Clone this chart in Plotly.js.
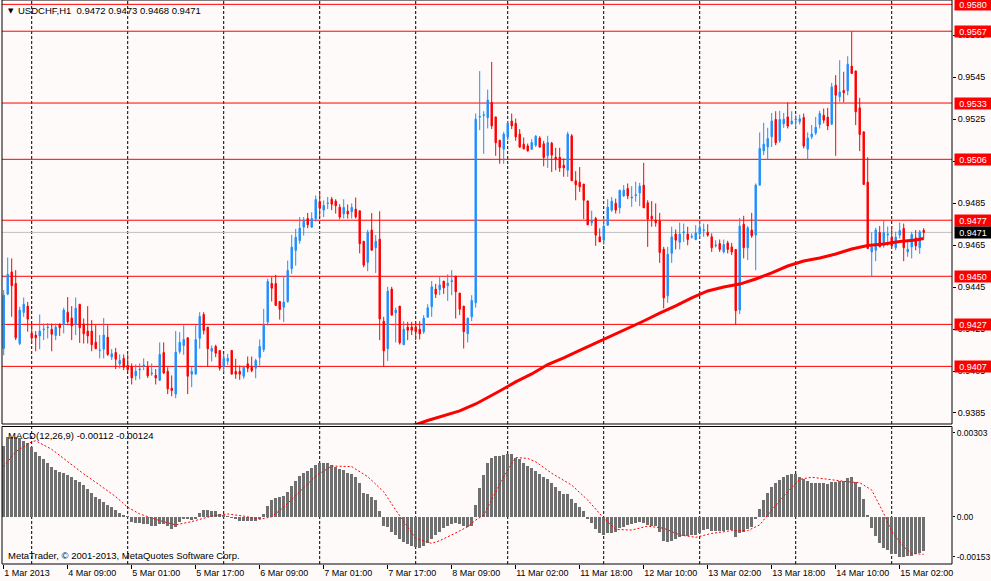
<!DOCTYPE html>
<html><head><meta charset="utf-8">
<script src="https://cdn.plot.ly/plotly-3.0.1.min.js"></script>
<style>html,body{margin:0;padding:0;background:#FFFAFA;}#chart{width:991px;height:581px;}</style>
</head><body><div id="chart"></div>
<script>
// ---- USDCHF H1 candles (bar 0 = 1 Mar 2013 17:00) ----
const openP = [
0.94157,0.94416,0.94522,0.94467,0.94181,0.94329,0.94359,0.94230,0.94221,0.94217,
0.94246,0.94256,0.94249,0.94219,0.94273,0.94271,0.94330,0.94302,0.94271,0.94368,
0.94273,0.94240,0.94240,0.94187,0.94148,0.94154,0.94211,0.94117,0.94138,0.94084,
0.94110,0.94078,0.94071,0.94027,0.94056,0.94071,0.94068,0.94037,0.94030,0.94006,
0.94138,0.94049,0.93968,0.93940,0.94143,0.94171,0.94208,0.94035,0.94035,0.94206,
0.94319,0.94259,0.94144,0.94167,0.94148,0.94071,0.94097,0.94148,0.94048,0.94048,
0.94025,0.94084,0.94068,0.94063,0.94114,0.94152,0.94283,0.94467,0.94467,0.94381,
0.94354,0.94381,0.94537,0.94624,0.94671,0.94735,0.94776,0.94735,0.94775,0.94857,
0.94816,0.94848,0.94868,0.94859,0.94830,0.94798,0.94811,0.94808,0.94821,0.94813,
0.94668,0.94567,0.94721,0.94637,0.94678,0.94287,0.94156,0.94440,0.94327,0.94359,
0.94175,0.94259,0.94259,0.94259,0.94249,0.94237,0.94306,0.94356,0.94440,0.94437,
0.94478,0.94456,0.94475,0.94502,0.94421,0.94359,0.94227,0.94308,0.94375,0.95259,
0.95267,0.95256,0.95329,0.95260,0.95149,0.95106,0.95165,0.95240,0.95229,0.95178,
0.95130,0.95122,0.95106,0.95125,0.95159,0.95132,0.95075,0.95135,0.95068,0.95068,
0.95030,0.95006,0.95170,0.94956,0.94949,0.94940,0.94860,0.94756,0.94776,0.94689,
0.94673,0.94744,0.94816,0.94849,0.94827,0.94884,0.94919,0.94874,0.94885,0.94898,
0.94935,0.94851,0.94787,0.94768,0.94765,0.94630,0.94408,0.94610,0.94702,0.94663,
0.94708,0.94702,0.94687,0.94676,0.94702,0.94719,0.94710,0.94689,0.94646,0.94657,
0.94617,0.94660,0.94641,0.94629,0.94340,0.94749,0.94637,0.94721,0.94697,0.94935,
0.95098,0.95117,0.95165,0.95248,0.95146,0.95227,0.95260,0.95227,0.95245,0.95237,
0.95257,0.95106,0.95165,0.95183,0.95224,0.95268,0.95259,0.95225,0.95411,0.95356,
0.95386,0.95384,0.95502,0.95479,0.95303,0.95189,0.94949,0.94617,0.94625,0.94710,
0.94649,0.94698,0.94687,0.94637,0.94697,0.94729,0.94617,0.94641,0.94684,0.94637,
0.94720];
const highP = [
0.94435,0.94590,0.94586,0.94530,0.94356,0.94400,0.94379,0.94276,0.94240,0.94319,
0.94276,0.94279,0.94276,0.94276,0.94276,0.94351,0.94402,0.94359,0.94400,0.94368,
0.94300,0.94359,0.94292,0.94268,0.94221,0.94302,0.94268,0.94154,0.94160,0.94129,
0.94129,0.94129,0.94086,0.94081,0.94086,0.94110,0.94097,0.94086,0.94059,0.94186,
0.94186,0.94068,0.94029,0.94240,0.94235,0.94267,0.94211,0.94068,0.94267,0.94330,
0.94330,0.94259,0.94171,0.94175,0.94148,0.94132,0.94132,0.94148,0.94108,0.94076,
0.94076,0.94119,0.94119,0.94108,0.94200,0.94346,0.94489,0.94497,0.94508,0.94381,
0.94502,0.94576,0.94698,0.94727,0.94783,0.94783,0.94803,0.94806,0.94886,0.94902,
0.94862,0.94879,0.94879,0.94868,0.94844,0.94868,0.94843,0.94848,0.94876,0.94813,
0.94668,0.94722,0.94802,0.94697,0.94811,0.94308,0.94451,0.94451,0.94352,0.94359,
0.94287,0.94284,0.94284,0.94284,0.94287,0.94316,0.94368,0.94478,0.94465,0.94502,
0.94478,0.94510,0.94530,0.94502,0.94421,0.94359,0.94302,0.94411,0.95276,0.95478,
0.95287,0.95390,0.95522,0.95260,0.95149,0.95189,0.95241,0.95276,0.95252,0.95202,
0.95162,0.95133,0.95154,0.95173,0.95168,0.95146,0.95170,0.95141,0.95113,0.95113,
0.95062,0.95189,0.95178,0.95002,0.95021,0.94940,0.94860,0.94813,0.94784,0.94729,
0.94776,0.94868,0.94879,0.94871,0.94911,0.94935,0.94943,0.94930,0.94951,0.94946,
0.95041,0.94863,0.94859,0.94848,0.94803,0.94641,0.94641,0.94737,0.94724,0.94757,
0.94752,0.94737,0.94705,0.94744,0.94768,0.94752,0.94749,0.94705,0.94673,0.94676,
0.94676,0.94670,0.94660,0.94629,0.94779,0.94789,0.94740,0.94803,0.94943,0.95186,
0.95232,0.95208,0.95279,0.95287,0.95289,0.95279,0.95329,0.95287,0.95268,0.95271,
0.95276,0.95186,0.95221,0.95260,0.95289,0.95300,0.95303,0.95422,0.95459,0.95530,
0.95475,0.95549,0.95667,0.95479,0.95351,0.95189,0.95068,0.94710,0.94732,0.94740,
0.94768,0.94738,0.94740,0.94713,0.94757,0.94752,0.94673,0.94713,0.94721,0.94721,
0.94730];
const lowP = [
0.94125,0.94411,0.94308,0.94197,0.94173,0.94308,0.94237,0.94186,0.94144,0.94154,
0.94197,0.94205,0.94144,0.94197,0.94217,0.94229,0.94276,0.94197,0.94221,0.94184,
0.94181,0.94181,0.94144,0.94156,0.94110,0.94110,0.94122,0.94102,0.94059,0.94062,
0.94054,0.94049,0.93986,0.94006,0.94011,0.94054,0.94017,0.94027,0.93986,0.94002,
0.94037,0.93940,0.93930,0.93920,0.94132,0.94127,0.93940,0.93973,0.94035,0.94156,
0.94224,0.94071,0.94095,0.94116,0.94052,0.94044,0.94079,0.94035,0.94013,0.94008,
0.94013,0.94044,0.94044,0.94016,0.94076,0.94140,0.94267,0.94381,0.94362,0.94295,
0.94283,0.94375,0.94513,0.94552,0.94656,0.94695,0.94730,0.94732,0.94762,0.94783,
0.94783,0.94821,0.94816,0.94800,0.94773,0.94776,0.94776,0.94776,0.94776,0.94610,
0.94544,0.94525,0.94625,0.94517,0.94197,0.94071,0.94098,0.94316,0.94186,0.94176,
0.94175,0.94197,0.94221,0.94197,0.94200,0.94227,0.94306,0.94308,0.94398,0.94411,
0.94417,0.94384,0.94411,0.94300,0.94316,0.94157,0.94186,0.94287,0.94352,0.95197,
0.95084,0.95205,0.95202,0.95075,0.95037,0.95037,0.95149,0.95202,0.95146,0.95113,
0.95105,0.95095,0.95105,0.95117,0.95116,0.95025,0.95017,0.94998,0.95006,0.94998,
0.94975,0.94975,0.94956,0.94863,0.94903,0.94773,0.94746,0.94741,0.94646,0.94665,
0.94652,0.94744,0.94808,0.94800,0.94800,0.94879,0.94868,0.94832,0.94856,0.94835,
0.94827,0.94641,0.94737,0.94737,0.94565,0.94348,0.94375,0.94565,0.94629,0.94629,
0.94665,0.94649,0.94681,0.94673,0.94681,0.94689,0.94689,0.94617,0.94638,0.94617,
0.94610,0.94610,0.94602,0.94271,0.94321,0.94586,0.94578,0.94684,0.94530,0.94935,
0.95078,0.95057,0.95117,0.95125,0.95137,0.95208,0.95205,0.95224,0.95205,0.95224,
0.95110,0.95057,0.95154,0.95173,0.95205,0.95229,0.95197,0.95221,0.95075,0.95332,
0.95329,0.95363,0.95467,0.95221,0.95097,0.94938,0.94633,0.94500,0.94573,0.94641,
0.94637,0.94646,0.94633,0.94625,0.94681,0.94573,0.94594,0.94586,0.94625,0.94608,
0.94680];
const closeP = [
0.94411,0.94511,0.94456,0.94208,0.94340,0.94368,0.94297,0.94208,0.94208,0.94240,
0.94249,0.94259,0.94225,0.94259,0.94256,0.94340,0.94284,0.94265,0.94349,0.94256,
0.94227,0.94217,0.94175,0.94156,0.94150,0.94221,0.94129,0.94132,0.94106,0.94100,
0.94068,0.94056,0.94017,0.94049,0.94059,0.94078,0.94027,0.94040,0.94017,0.94129,
0.94040,0.93965,0.93957,0.94140,0.94187,0.94200,0.94025,0.94048,0.94200,0.94310,
0.94243,0.94156,0.94157,0.94135,0.94063,0.94111,0.94110,0.94035,0.94035,0.94035,
0.94068,0.94063,0.94052,0.94100,0.94167,0.94270,0.94476,0.94444,0.94362,0.94343,
0.94378,0.94529,0.94640,0.94687,0.94730,0.94767,0.94746,0.94776,0.94867,0.94825,
0.94838,0.94850,0.94844,0.94837,0.94783,0.94829,0.94798,0.94829,0.94784,0.94656,
0.94554,0.94711,0.94625,0.94668,0.94298,0.94146,0.94430,0.94316,0.94340,0.94184,
0.94249,0.94244,0.94244,0.94237,0.94227,0.94302,0.94351,0.94451,0.94416,0.94460,
0.94446,0.94468,0.94480,0.94427,0.94344,0.94237,0.94302,0.94386,0.95249,0.95262,
0.95270,0.95340,0.95217,0.95137,0.95116,0.95178,0.95230,0.95217,0.95165,0.95116,
0.95108,0.95098,0.95138,0.95168,0.95116,0.95067,0.95138,0.95078,0.95059,0.95017,
0.95017,0.95178,0.94956,0.94937,0.94927,0.94863,0.94746,0.94765,0.94697,0.94665,
0.94740,0.94830,0.94859,0.94816,0.94911,0.94911,0.94884,0.94878,0.94889,0.94930,
0.94827,0.94773,0.94775,0.94756,0.94614,0.94398,0.94606,0.94689,0.94673,0.94702,
0.94712,0.94676,0.94691,0.94708,0.94732,0.94722,0.94697,0.94637,0.94650,0.94629,
0.94652,0.94629,0.94617,0.94337,0.94740,0.94637,0.94732,0.94694,0.94935,0.95110,
0.95130,0.95157,0.95241,0.95137,0.95248,0.95249,0.95216,0.95240,0.95249,0.95251,
0.95121,0.95160,0.95178,0.95211,0.95276,0.95244,0.95217,0.95403,0.95363,0.95379,
0.95375,0.95511,0.95467,0.95284,0.95176,0.94938,0.94633,0.94641,0.94722,0.94641,
0.94710,0.94702,0.94646,0.94687,0.94719,0.94637,0.94630,0.94700,0.94646,0.94713,
0.94710];

// ---- moving average ----
const maBars = [100,102,106,110,114,118,120,124,128,132,136,140,144,148,152,156,160,164,168,172,176,180,184,188,192,196,200,204,208,212,216,220,224,228,230];
const maValues = [0.93770,0.93788,0.93814,0.93836,0.93860,0.93893,0.93915,0.93955,0.93998,0.94036,0.94081,0.94112,0.94148,0.94183,0.94217,0.94250,0.94288,0.94326,0.94360,0.94398,0.94431,0.94450,0.94464,0.94488,0.94517,0.94550,0.94574,0.94588,0.94607,0.94631,0.94648,0.94655,0.94667,0.94674,0.94681];

// ---- MACD(12,26,9), in units of 0.00001 ----
const macdHist = [
233,261,261,261,258,250,244,231,214,200,
189,178,165,154,146,143,137,130,121,115,
104,90,77,64,57,49,38,31,22,13,
5,1,-16,-20,-22,-24,-24,-31,-31,-24,
-24,-31,-41,-33,-16,-9,-9,-11,-7,13,
22,22,20,18,9,5,2,-5,-9,-13,
-14,-14,-14,-14,-9,9,35,55,60,64,
68,82,101,119,134,145,152,159,170,176,
176,176,170,163,156,154,145,141,132,110,
79,75,64,55,20,-31,-35,-49,-60,-75,
-82,-90,-97,-99,-102,-97,-86,-75,-60,-49,
-38,-31,-24,-20,-24,-31,-33,-31,38,93,
137,178,192,200,200,203,206,206,195,189,
178,167,159,152,141,132,123,112,99,86,
75,75,57,46,31,20,-7,-22,-42,-53,
-60,-55,-53,-49,-38,-33,-27,-24,-22,-16,
-22,-27,-31,-31,-49,-79,-82,-79,-75,-68,
-64,-64,-60,-60,-53,-44,-42,-46,-46,-46,
-46,-44,-44,-68,-53,-49,-42,-35,-9,27,
55,79,99,112,121,132,137,141,141,130,
123,119,112,112,112,110,108,115,115,119,
119,126,130,115,97,57,5,-38,-64,-86,
-102,-110,-123,-123,-132,-132,-130,-130,-123,-119,
-112];
const sigBars = [0,3,7,8,12,16,20,24,28,31,34,39,43,47,52,56,60,64,67,70,74,78,82,87,91,95,98,101,103,107,109,112,116,118,120,123,126,128,131,133,137,142,146,150,153,157,161,165,169,173,177,182,186,189,192,196,199,202,207,211,214,217,220,222,225,227,230];
const sigValues = [165,214,247,250,222,181,141,104,66,31,9,-13,-27,-16,2,9,2,-9,0,31,82,134,167,165,132,82,22,-33,-71,-88,-79,-60,-33,-11,5,82,154,195,192,181,143,104,55,-5,-42,-44,-31,-38,-60,-68,-55,-46,-46,-27,22,82,123,130,121,115,112,88,11,-49,-99,-121,-124];

// ---- levels, ticks, labels ----
const levelPrices = [0.95796,0.95668,0.95326,0.95058,0.94768,0.94501,0.94272,0.94072];
const lastPrice = 0.94710;
const priceTicks = [0.9565,0.9545,0.9525,0.9505,0.9485,0.9465,0.9445,0.9425,0.9405,0.9385];
const macdTickPos = [0.00276,0,-0.00132];
const macdTickText = ['0.00303','0.00','-0.00153'];
const timeTickBars = [0,16,32,48,64,80,96,112,128,144,160,176,192,208,224];
const timeTickLabels = ['1 Mar 2013','4 Mar 09:00','5 Mar 01:00','5 Mar 17:00','6 Mar 09:00','7 Mar 01:00','7 Mar 17:00','8 Mar 09:00','11 Mar 02:00','11 Mar 18:00','12 Mar 10:00','13 Mar 02:00','13 Mar 18:00','14 Mar 10:00','15 Mar 02:00'];
const daySeparators = [7,31,55,79,103,126,150,174,198,222];
const titleText = 'USDCHF,H1\u00a0 0.9472 0.9473 0.9468 0.9471';
const macdText = 'MACD(12,26,9) -0.00112 -0.00124';
const copyText = 'MetaTrader, \u00a9 2001-2013, MetaQuotes Software Corp.';

const idx = openP.map((_, i) => i);
const S = 1e-5;
const BLUE = '#1E90FF', RED = '#FF0000', BG = '#FFFAFA';
const FONT = 'Liberation Sans, Arial, sans-serif';

const mainDom = [0.24823, 1];
const macdDom = [0, 0.24379];

const traces = [
  {type:'candlestick', x:idx, open:openP, high:highP, low:lowP, close:closeP,
   xaxis:'x', yaxis:'y', whiskerwidth:0, hoverinfo:'skip',
   increasing:{line:{color:BLUE, width:1}, fillcolor:BLUE},
   decreasing:{line:{color:RED, width:1}, fillcolor:RED}},
  {type:'scatter', mode:'lines', x:maBars, y:maValues, xaxis:'x', yaxis:'y',
   line:{color:RED, width:3}, hoverinfo:'skip'},
  {type:'bar', x:idx, y:macdHist.map(v => v*S), xaxis:'x', yaxis:'y2',
   width:0.75, marker:{color:'#707070', line:{width:0}}, hoverinfo:'skip'},
  {type:'scatter', mode:'lines', x:sigBars, y:sigValues.map(v => v*S), xaxis:'x', yaxis:'y2',
   line:{color:RED, width:1, dash:'2px,2px'}, hoverinfo:'skip'}
];

const shapes = [];
daySeparators.forEach(d => shapes.push({type:'line', xref:'x', yref:'paper', x0:d, x1:d, y0:0, y1:1,
  line:{color:'#000', width:1, dash:'3px,2px'}, layer:'below'}));
levelPrices.forEach(p => shapes.push({type:'line', xref:'paper', yref:'y', x0:0, x1:1, y0:p, y1:p,
  line:{color:RED, width:1}, layer:'below'}));
shapes.push({type:'line', xref:'paper', yref:'y', x0:0, x1:1, y0:lastPrice, y1:lastPrice,
  line:{color:'#C0C0C0', width:1}, layer:'below'});
shapes.push({type:'rect', xref:'paper', yref:'paper', x0:0, x1:1, y0:mainDom[0], y1:mainDom[1],
  line:{color:'#000', width:1}, fillcolor:'rgba(0,0,0,0)', layer:'above'});
shapes.push({type:'rect', xref:'paper', yref:'paper', x0:0, x1:1, y0:macdDom[0], y1:macdDom[1],
  line:{color:'#000', width:1}, fillcolor:'rgba(0,0,0,0)', layer:'above'});

const annotations = [];
levelPrices.forEach(p => annotations.push({xref:'paper', x:1, xanchor:'left', xshift:2,
  yref:'y', y:p, yanchor:'middle', text:p.toFixed(4), showarrow:false,
  bgcolor:RED, font:{family:FONT, size:9, color:'#FFFFFF'}, width:34, height:9, borderpad:1}));
annotations.push({xref:'paper', x:1, xanchor:'left', xshift:2, yref:'y', y:lastPrice, yanchor:'middle',
  text:lastPrice.toFixed(4), showarrow:false, bgcolor:'#000000',
  font:{family:FONT, size:9, color:'#FFFFFF'}, width:34, height:9, borderpad:1});
annotations.push({xref:'paper', x:0, xanchor:'left', xshift:5, yref:'paper', y:1, yanchor:'middle', yshift:-10.5,
  text:'\u25BC', showarrow:false, borderpad:0, font:{family:'DejaVu Sans', size:7, color:'#000'}});
annotations.push({xref:'paper', x:0, xanchor:'left', xshift:15, yref:'paper', y:1, yanchor:'middle', yshift:-10.7,
  text:titleText, showarrow:false, borderpad:0, font:{family:FONT, size:9.5, color:'#000'}});
annotations.push({xref:'paper', x:0, xanchor:'left', xshift:4.5, yref:'paper', y:0.2275, yanchor:'middle',
  text:macdText, showarrow:false, borderpad:0, font:{family:FONT, size:9.5, color:'#000'}});
annotations.push({xref:'paper', x:0, xanchor:'left', xshift:4.5, yref:'paper', y:0.0142, yanchor:'middle',
  text:copyText, showarrow:false, borderpad:0, font:{family:FONT, size:9.5, color:'#000'}});

const axisFont = {family:FONT, size:9, color:'#000'};
const layout = {
  width:991, height:581,
  margin:{l:2, r:39, t:0, b:17, pad:0},
  paper_bgcolor:BG, plot_bgcolor:BG,
  showlegend:false, hovermode:false,
  boxgap:0.5, bargap:0,
  font:axisFont,
  xaxis:{range:[-0.425, 237.075], anchor:'y2', tickmode:'array', tickvals:timeTickBars, ticktext:timeTickLabels,
    ticks:'outside', ticklen:4, tickcolor:'#000', ticklabelposition:'outside right', tickfont:axisFont,
    showgrid:false, zeroline:false, showline:false, fixedrange:true, rangeslider:{visible:false}, automargin:false},
  yaxis:{domain:mainDom, range:[0.937976, 0.958167], side:'right', anchor:'x', tickmode:'array',
    tickvals:priceTicks, ticktext:priceTicks.map(v => v.toFixed(4)), ticks:'outside', ticklen:3, tickcolor:'#000',
    tickfont:axisFont, showgrid:false, zeroline:false, showline:false, fixedrange:true, automargin:false},
  yaxis2:{domain:macdDom, range:[-0.001558, 0.002971], side:'right', anchor:'x', tickmode:'array',
    tickvals:macdTickPos, ticktext:macdTickText, ticks:'outside', ticklen:2, tickcolor:'#000',
    tickfont:{family:FONT, size:8.5, color:'#000'}, showgrid:false, zeroline:false, showline:false, fixedrange:true, automargin:false},
  shapes:shapes, annotations:annotations
};

Plotly.newPlot('chart', traces, layout, {staticPlot:true, displayModeBar:false});
</script>
</body></html>
